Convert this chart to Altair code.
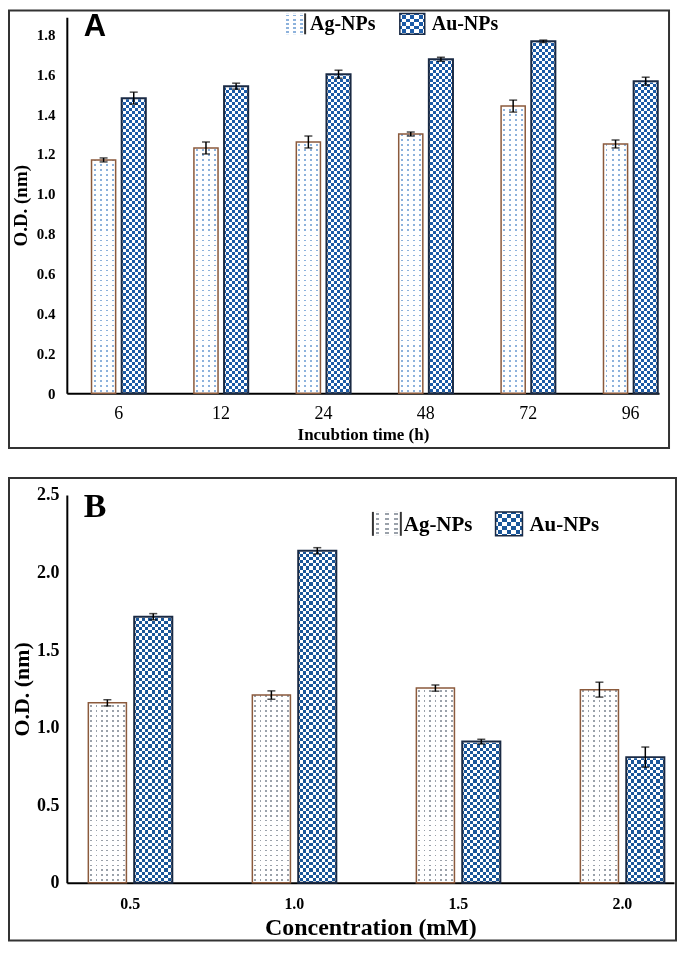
import altair as alt
import pandas as pd

series = ["Ag-NPs", "Au-NPs"]

# Panel A: incubation time
times = ["6", "12", "24", "48", "72", "96"]
ag_time = [1.17, 1.23, 1.26, 1.30, 1.44, 1.25]
ag_time_err = [0.01, 0.03, 0.03, 0.01, 0.03, 0.02]
au_time = [1.48, 1.54, 1.60, 1.675, 1.765, 1.565]
au_time_err = [0.03, 0.015, 0.02, 0.01, 0.006, 0.02]
ticks_a = [0, 0.2, 0.4, 0.6, 0.8, 1.0, 1.2, 1.4, 1.6, 1.8]

# Panel B: concentration
concs = ["0.5", "1.0", "1.5", "2.0"]
ag_conc = [1.16, 1.21, 1.255, 1.245]
ag_conc_err = [0.02, 0.027, 0.02, 0.048]
au_conc = [1.715, 2.14, 0.91, 0.81]
au_conc_err = [0.02, 0.02, 0.015, 0.065]
ticks_b = [0, 0.5, 1.0, 1.5, 2.0, 2.5]

SERIF = "Liberation Serif"
SANS = "Liberation Sans"
CLEAR = "rgba(255,255,255,0)"


def make_df(cats, ag, ag_err, au, au_err):
    rows = []
    for name, vals, errs in (("Ag-NPs", ag, ag_err), ("Au-NPs", au, au_err)):
        for c, v, e in zip(cats, vals, errs):
            rows.append({"cat": c, "series": name, "value": v, "lo": v - e, "hi": v + e})
    return pd.DataFrame(rows)


def stripes(n, frac, on, off, rows):
    stops = []
    pad = (1 - frac) / 2
    for k in range(n):
        a = k / n
        b = (k + pad) / n
        c = (k + pad + frac) / n
        d = (k + 1) / n
        for col, off_ in ((off, a), (off, b), (on, b), (on, c), (off, c), (off, d)):
            stops.append({"color": col, "offset": round(min(off_, 1.0), 5)})
    g = {"gradient": "linear", "stops": stops}
    if rows:
        g.update(x1=0, x2=0, y1=0, y2=1)
    else:
        g.update(x1=0, x2=1, y1=0, y2=0)
    return g


def one():
    return alt.Data(values=[{"k": 0}])


def checker_layers(chart, enc, ncols, nrows, color):
    """Checkerboard: black/white columns XOR black/white rows, then tinted."""
    return [
        chart.mark_bar(fill=stripes(ncols, 0.5, "#000000", "#ffffff", False), strokeWidth=0).encode(**enc),
        chart.mark_bar(fill=stripes(nrows, 0.5, "#000000", "#ffffff", True), strokeWidth=0,
                       blend="difference").encode(**enc),
        chart.mark_bar(fill=color, strokeWidth=0, blend="lighten").encode(**enc),
    ]


def dot_layers(chart, enc, ncols, nrows, color, frac_c, frac_r):
    return [
        chart.mark_bar(fill=stripes(ncols, frac_c, color, "#ffffff", False), strokeWidth=0).encode(**enc),
        chart.mark_bar(fill=stripes(nrows, frac_r, CLEAR, "#ffffff", True), strokeWidth=0).encode(**enc),
    ]


def text_top(chart, text, x, y, font, size):
    return chart.mark_text(text=text, font=font, fontWeight="bold", fontSize=size, color="black",
                           align="left", baseline="top").encode(x=alt.value(x), y=alt.value(y))


def panel(df, cats, ymax, W, H, pi, po, al, opi, yaxis, xaxis, xtitle,
          ag_pat, au_pat, ag_stroke, au_stroke, sw, frame, letter, legend):
    base = alt.Chart(df)
    xenc = alt.X("cat:N", sort=cats, title=xtitle,
                 scale=alt.Scale(paddingInner=pi, paddingOuter=po, align=al),
                 axis=xaxis)
    xoff = alt.XOffset("series:N", sort=series,
                       scale=alt.Scale(domain=series, paddingInner=opi, paddingOuter=0))

    def yenc(f):
        return alt.Y(f, title="O.D. (nm)",
                     scale=alt.Scale(domain=[0, ymax], nice=False, zero=True),
                     axis=yaxis)

    layers = []
    ag = base.transform_filter(alt.datum.series == "Ag-NPs").transform_calculate(top=str(ymax))
    layers.append(ag.mark_bar(fill=stripes(ag_pat[0], ag_pat[3], ag_pat[2], "#ffffff", False),
                              strokeWidth=0).encode(x=xenc, xOffset=xoff, y=yenc("value:Q")))
    layers.append(ag.mark_bar(fill=stripes(ag_pat[1], ag_pat[4], CLEAR, "#ffffff", True),
                              strokeWidth=0).encode(x=xenc, xOffset=xoff, y=yenc("top:Q")))
    au = base.transform_filter(alt.datum.series == "Au-NPs").transform_calculate(top=str(ymax))
    layers += checker_layers(au, dict(x=xenc, xOffset=xoff, y=yenc("top:Q")),
                             au_pat[0], au_pat[1], au_pat[2])
    layers.append(au.mark_bar(fill="#ffffff", stroke="#ffffff", strokeWidth=2.5).encode(
        x=xenc, xOffset=xoff, y=yenc("value:Q"), y2="top:Q"))
    layers.append(base.mark_bar(fill="transparent").encode(
        x=xenc, xOffset=xoff, y=yenc("value:Q"),
        stroke=alt.Stroke("series:N", scale=alt.Scale(domain=series, range=[ag_stroke, au_stroke]), legend=None),
        strokeWidth=alt.StrokeWidth("series:N", scale=alt.Scale(domain=series, range=sw), legend=None),
    ))
    layers.append(base.mark_rule(color="black", strokeWidth=1.5).encode(
        x=xenc, xOffset=xoff, y=yenc("lo:Q"), y2="hi:Q"))
    layers.append(base.transform_fold(["lo", "hi"], as_=["k", "v"]).mark_tick(
        color="black", size=8, thickness=1.5).encode(x=xenc, xOffset=xoff, y=yenc("v:Q")))

    (ax1, ax2, ay1, ay2, acol, edges, atx, aty, afs), (ux1, ux2, uy1, uy2, ucol, ustroke, utx, uty, ufs) = legend
    one_c = alt.Chart(one())
    aenc = dict(x=alt.value(ax1), x2=alt.value(ax2), y=alt.value(ay1), y2=alt.value(ay2))
    layers += dot_layers(one_c, aenc, 3, 5, acol, 0.4, 0.4)
    for ex in edges:
        layers.append(one_c.mark_rule(color="#333333", strokeWidth=2).encode(
            x=alt.value(ex), y=alt.value(ay1), y2=alt.value(ay2)))
    layers.append(text_top(one_c, "Ag-NPs", atx, aty, SERIF, afs))
    uenc = dict(x=alt.value(ux1), x2=alt.value(ux2), y=alt.value(uy1), y2=alt.value(uy2))
    layers += checker_layers(one_c, uenc, 3, 3, ucol)
    layers.append(one_c.mark_rect(fill="transparent", stroke=ustroke, strokeWidth=1.5).encode(**uenc))
    layers.append(text_top(one_c, "Au-NPs", utx, uty, SERIF, ufs))

    lt, lx, ly, lfont, lsize = letter
    layers.append(text_top(one_c, lt, lx, ly, lfont, lsize))

    fx1, fx2, fy1, fy2 = frame
    layers.append(one_c.mark_rect(
        fill="transparent", stroke="#333333", strokeWidth=2
    ).encode(x=alt.value(fx1), x2=alt.value(fx2), y=alt.value(fy1), y2=alt.value(fy2)))

    return alt.layer(*layers).properties(width=W, height=H)


label_expr = "datum.value == 0 ? '0' : format(datum.value, '.1f')"

# ---------- Panel A ----------
WA, HA = 594, 377
yaxis_a = alt.Axis(values=ticks_a, labelExpr=label_expr, ticks=False, tickSize=0, grid=False,
                   domainColor="black", domainWidth=2, labelFont=SERIF, labelFontWeight="bold",
                   labelFontSize=15, labelColor="black", labelPadding=12,
                   titleFont=SERIF, titleFontWeight="bold", titleFontSize=19,
                   titleColor="black", titlePadding=6)
xaxis_a = alt.Axis(labelAngle=0, ticks=False, tickSize=0, grid=False, domainColor="black",
                   domainWidth=2, labelFont=SERIF, labelFontSize=18, labelColor="black",
                   labelPadding=11, titleFont=SERIF, titleFontWeight="bold", titleFontSize=17,
                   titleColor="black", titlePadding=4)
panel_a = panel(
    make_df(times, ag_time, ag_time_err, au_time, au_time_err), times, 1.885,
    WA, HA, 0.47, 0.127, 0.95, 0.2, yaxis_a, xaxis_a, "Incubtion time (h)",
    (4, 75, "#8db2dc", 0.33, 0.35), (4, 63, "#1b5aa6"),
    "#8b5a3c", "#1a2a44", [1.5, 2.0],
    (-58, 604, -7, HA + 55),
    ("A", 17, -5, SANS, 31),
    ((218, 239, -4, 17, "#8db2dc", [239], 244, -3, 20),
     (334, 359, -4, 17, "#1b5aa6", "#1a2a44", 366, -3, 20)),
)

# ---------- Panel B ----------
WB, HB = 609, 389
yaxis_b = alt.Axis(values=ticks_b, labelExpr=label_expr, ticks=False, tickSize=0, grid=False,
                   domainColor="black", domainWidth=2, labelFont=SERIF, labelFontWeight="bold",
                   labelFontSize=18, labelColor="black", labelPadding=8,
                   titleFont=SERIF, titleFontWeight="bold", titleFontSize=22,
                   titleColor="black", titlePadding=3)
xaxis_b = alt.Axis(labelAngle=0, ticks=False, tickSize=0, grid=False, domainColor="black",
                   domainWidth=2, labelFont=SERIF, labelFontWeight="bold", labelFontSize=16,
                   labelColor="black", labelPadding=13, titleFont=SERIF, titleFontWeight="bold",
                   titleFontSize=24, titleColor="black", titlePadding=4)
panel_b = panel(
    make_df(concs, ag_conc, ag_conc_err, au_conc, au_conc_err), concs, 2.5,
    WB, HB, 0.488, 0.095, 0.69, 0.17, yaxis_b, xaxis_b, "Concentration (mM)",
    (7, 78, "#9aa1aa", 0.33, 0.35), (6, 61, "#1a5699"),
    "#b07a50", "#2e6db0", [2.0, 3.0],
    (-58, 611, -17, HB + 58),
    ("B", 17, -5, SERIF, 34),
    ((307, 335, 17, 41, "#9aa1aa", [307, 335], 338, 19, 21),
     (430, 457, 17, 41, "#1a5699", "#1a2a44", 464, 19, 21)),
)

chart = alt.vconcat(panel_a, panel_b, spacing=28).resolve_scale(
    xOffset="independent"
).properties(
    padding=0, background="white"
).configure_view(stroke=None)

chart.save("out.html", embed_options={"renderer": "svg", "actions": False})
